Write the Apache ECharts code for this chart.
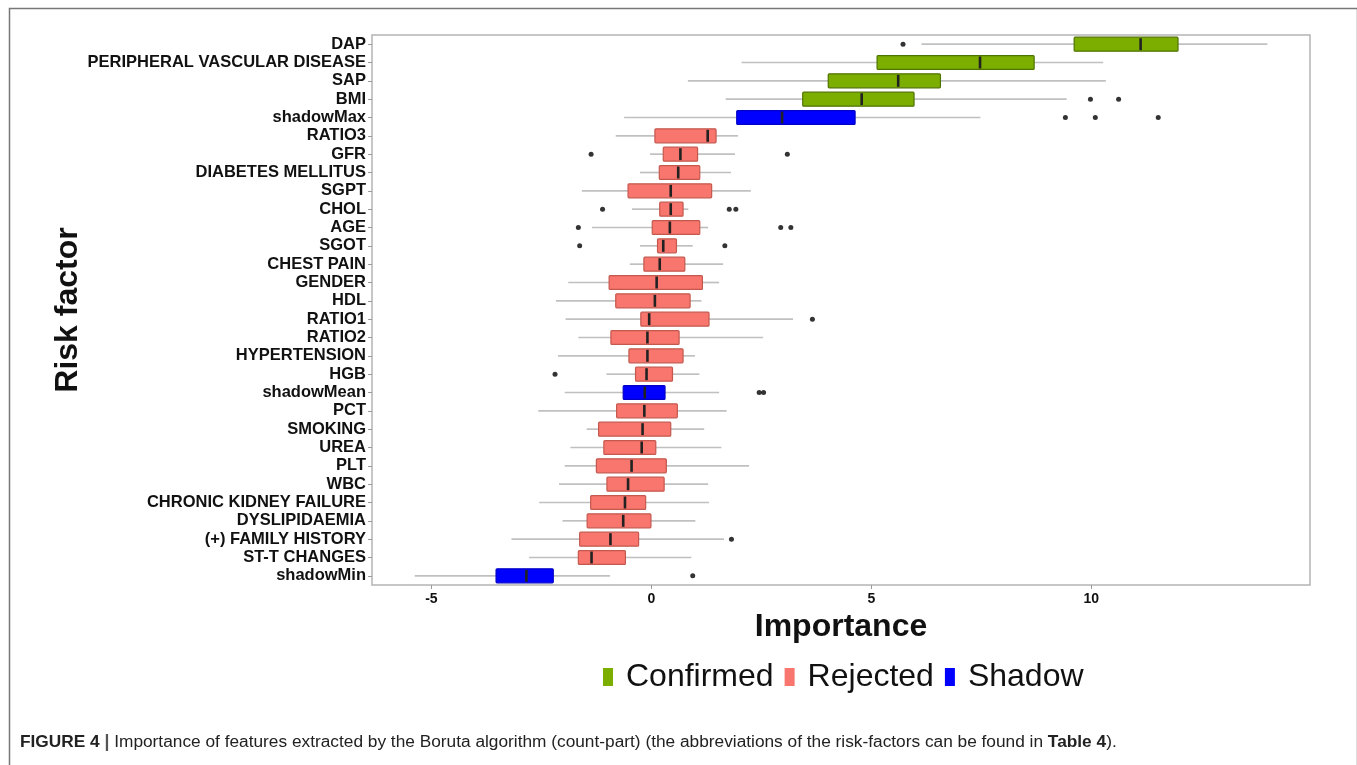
<!DOCTYPE html>
<html><head><meta charset="utf-8">
<script src="https://cdn.jsdelivr.net/npm/echarts@6/dist/echarts.min.js"></script>
<style>html,body{margin:0;padding:0;background:#fff}#c{width:1357px;height:765px}</style>
</head><body><div id="c"></div>
<script>
// ---------- data ----------
const categories = ['DAP','PERIPHERAL VASCULAR DISEASE','SAP','BMI','shadowMax','RATIO3','GFR','DIABETES MELLITUS','SGPT','CHOL','AGE','SGOT','CHEST PAIN','GENDER','HDL','RATIO1','RATIO2','HYPERTENSION','HGB','shadowMean','PCT','SMOKING','UREA','PLT','WBC','CHRONIC KIDNEY FAILURE','DYSLIPIDAEMIA','(+) FAMILY HISTORY','ST-T CHANGES','shadowMin'];
const groups = ['Confirmed','Confirmed','Confirmed','Confirmed','Shadow','Rejected','Rejected','Rejected','Rejected','Rejected','Rejected','Rejected','Rejected','Rejected','Rejected','Rejected','Rejected','Rejected','Rejected','Shadow','Rejected','Rejected','Rejected','Rejected','Rejected','Rejected','Rejected','Rejected','Rejected','Shadow'];
const whiskerLow  = [6.14, 2.05, 0.83, 1.69, -0.62, -0.81, -0.03, -0.26, -1.58, -0.44, -1.35, -0.26, -0.49, -1.89, -2.17, -1.95, -1.66, -2.12, -1.02, -1.97, -2.57, -1.47, -1.84, -1.97, -2.10, -2.55, -2.02, -3.18, -2.78, -5.38];
const q1          = [9.61, 5.13, 4.02, 3.44, 1.94, 0.08, 0.27, 0.18, -0.53, 0.19, 0.02, 0.14, -0.17, -0.96, -0.81, -0.24, -0.92, -0.51, -0.36, -0.64, -0.79, -1.20, -1.08, -1.25, -1.01, -1.38, -1.46, -1.63, -1.66, -3.53];
const median      = [11.12, 7.47, 5.61, 4.78, 2.97, 1.28, 0.66, 0.61, 0.44, 0.44, 0.42, 0.27, 0.19, 0.12, 0.08, -0.05, -0.09, -0.09, -0.11, -0.15, -0.16, -0.20, -0.22, -0.45, -0.53, -0.60, -0.64, -0.93, -1.36, -2.84];
const q3          = [11.97, 8.70, 6.57, 5.97, 4.63, 1.47, 1.05, 1.10, 1.37, 0.72, 1.10, 0.57, 0.76, 1.16, 0.88, 1.31, 0.63, 0.72, 0.48, 0.31, 0.59, 0.44, 0.10, 0.34, 0.29, -0.13, -0.01, -0.29, -0.59, -2.23];
const whiskerHigh = [14.00, 10.27, 10.33, 9.44, 7.48, 1.97, 1.90, 1.81, 2.26, 0.84, 1.29, 0.94, 1.63, 1.54, 1.14, 3.22, 2.54, 0.99, 1.09, 1.54, 1.71, 1.20, 1.59, 2.22, 1.29, 1.31, 1.00, 1.65, 0.91, -0.94];
const outlierCategory = ['DAP','BMI','BMI','shadowMax','shadowMax','shadowMax','GFR','GFR','CHOL','CHOL','CHOL','AGE','AGE','AGE','SGOT','SGOT','RATIO1','HGB','shadowMean','shadowMean','(+) FAMILY HISTORY','shadowMin'];
const outlierValue    = [5.72, 9.98, 10.62, 9.41, 10.09, 11.52, -1.37, 3.09, -1.11, 1.77, 1.92, -1.66, 2.94, 3.17, -1.63, 1.67, 3.66, -2.19, 2.45, 2.55, 1.82, 0.94];
const groupNames = ['Confirmed','Rejected','Shadow'];
const xTicks = [-5, 0, 5, 10];
// ---------- styles ----------
const groupFill   = {Confirmed:'#7cae00', Rejected:'#f8766d', Shadow:'#0000ff'};
const groupStroke = {Confirmed:'#4f7300', Rejected:'#c4584f', Shadow:'#0000c8'};

function renderBox(params, api){
  const c = api.value(0);
  const pLow = api.coord([api.value(1), c]);
  const pQ1 = api.coord([api.value(2), c]);
  const pMed = api.coord([api.value(3), c]);
  const pQ3 = api.coord([api.value(4), c]);
  const pHigh = api.coord([api.value(5), c]);
  const band = api.size([0, 1])[1];
  const h = band * 0.76;
  const y = pMed[1];
  const g = params.seriesName;
  return {type:'group', children:[
    {type:'line', shape:{x1:pLow[0], y1:y, x2:pQ1[0], y2:y}, style:{stroke:'#c0c0c0', lineWidth:1.7}},
    {type:'line', shape:{x1:pQ3[0], y1:y, x2:pHigh[0], y2:y}, style:{stroke:'#c0c0c0', lineWidth:1.7}},
    {type:'rect', shape:{x:pQ1[0], y:y-h/2, width:pQ3[0]-pQ1[0], height:h, r:1}, style:{fill:groupFill[g], stroke:groupStroke[g], lineWidth:1.2}},
    {type:'line', shape:{x1:pMed[0], y1:y-h/2+1, x2:pMed[0], y2:y+h/2-1}, style:{stroke:'#222', lineWidth:2.6}}
  ]};
}

const series = groupNames.map(g => ({
  name: g, type:'custom', renderItem: renderBox,
  itemStyle:{color: groupFill[g]},
  encode:{x:[1,2,3,4,5], y:0},
  data: categories.map((c,i)=> groups[i]===g ? [i, whiskerLow[i], q1[i], median[i], q3[i], whiskerHigh[i]] : null).filter(d=>d)
}));
series.push({
  name:'outliers', type:'scatter', symbolSize:5, itemStyle:{color:'#000'},
  data: outlierValue.map((v,i)=>[v, categories.indexOf(outlierCategory[i])]),
  z:5
});

const chart = echarts.init(document.getElementById('c'), null, {renderer:'canvas'});
chart.setOption({
  backgroundColor:'#fff',
  animation:false,
  textStyle:{fontFamily:'Liberation Sans, Arial, sans-serif'},
  grid:{left:372, right:47, top:35, bottom:180, show:true, borderColor:'#b4b4b4', borderWidth:1.5, backgroundColor:'transparent'},
  xAxis:{type:'value', min:-6.35, max:14.97, splitLine:{show:false},
    axisLine:{show:false, onZero:false},
    axisTick:{show:true, length:4, lineStyle:{color:'#999'}, customValues:xTicks},
    axisLabel:{customValues:xTicks, fontWeight:'bold', fontSize:14, color:'#111', margin:7},
    name:'Importance', nameLocation:'middle', nameGap:24,
    nameTextStyle:{fontSize:32, fontWeight:'bold', color:'#111'}},
  yAxis:{type:'category', data:categories, inverse:true,
    axisLine:{show:false, onZero:false}, splitLine:{show:false},
    axisTick:{show:true, length:4, alignWithLabel:true, interval:0, lineStyle:{color:'#999'}},
    axisLabel:{interval:0, fontWeight:'bold', fontSize:16.5, color:'#111', margin:6},
    name:'Risk factor', nameLocation:'middle', nameGap:288, nameRotate:90, nameMoveOverlap:false,
    nameTextStyle:{fontSize:32, fontWeight:'bold', color:'#111'}},
  legend:{data:groupNames, left:603, top:661, itemWidth:10, itemHeight:18, itemGap:11, icon:'rect',
    textStyle:{fontSize:32, color:'#111', padding:[0,0,0,8]}, padding:0, selectedMode:false},
  graphic:[
    {type:'rect', left:7, top:6, shape:{width:1348, height:800}, style:{fill:'none', stroke:'#777', lineWidth:1.5}, silent:true},
    {type:'text', left:20, top:733, style:{
      text:'{b|FIGURE 4} {s|\u007c} Importance of features extracted by the Boruta algorithm (count-part) (the abbreviations of the risk-factors can be found in {b|Table 4}).',
      fontSize:17.3, fill:'#222', fontFamily:'Liberation Sans, Arial, sans-serif',
      rich:{b:{fontWeight:'bold', fontSize:17.3, fill:'#222'}, s:{fontWeight:'bold', fontSize:17.5, fill:'#555'}}}}
  ],
  series: series
});
</script></body></html>
